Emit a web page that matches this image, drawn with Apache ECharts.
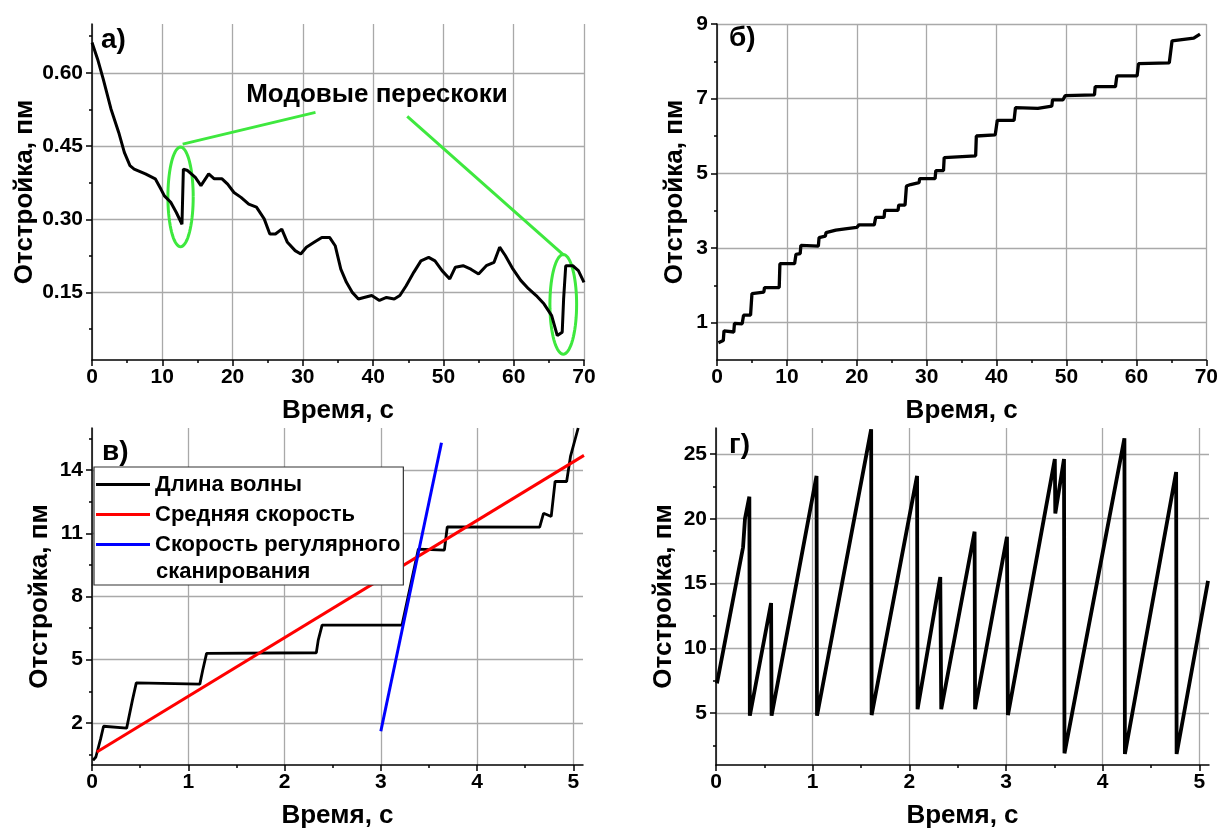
<!DOCTYPE html>
<html><head><meta charset="utf-8">
<script src="https://cdn.jsdelivr.net/npm/echarts@6/dist/echarts.min.js"></script>
<style>html,body{margin:0;padding:0;background:#fff}#c{width:1221px;height:837px}</style>
</head><body><div id="c"></div>
<script>
// ---------- Panel а) ----------
const timeA = [0,0.8,1.6,2.7,3.8,4.6,5.4,6.0,7.6,9.0,9.8,10.3,11.2,12.0,12.8,13.0,13.6,14.7,15.5,16.6,17.4,18.5,19.3,20.2,21.2,22.3,23.4,24.5,25.3,26.1,27.0,27.8,28.9,29.7,30.5,31.6,32.7,33.8,34.6,35.4,36.2,37.0,37.9,38.7,39.8,40.9,41.9,43.0,43.8,44.7,45.8,46.8,47.9,48.8,49.8,50.9,51.7,52.8,53.9,55.0,56.1,57.2,58.0,58.8,59.9,61.0,62.1,63.2,64.3,65.4,66.2,66.9,67.1,67.4,68.4,69.2,70.0];
const detuneA = [0.662,0.628,0.587,0.526,0.478,0.437,0.410,0.403,0.393,0.383,0.362,0.348,0.335,0.314,0.290,0.403,0.400,0.386,0.369,0.393,0.383,0.383,0.372,0.355,0.345,0.331,0.325,0.301,0.270,0.270,0.280,0.253,0.236,0.229,0.243,0.253,0.263,0.263,0.246,0.198,0.171,0.151,0.137,0.140,0.144,0.134,0.140,0.137,0.144,0.164,0.192,0.215,0.222,0.215,0.195,0.178,0.202,0.205,0.198,0.188,0.205,0.212,0.243,0.226,0.198,0.175,0.158,0.144,0.127,0.103,0.062,0.069,0.137,0.205,0.205,0.195,0.171];
// annotation: ellipses (center x, center y, radius x, radius y) and pointer lines
const ellipseX = [12.6, 67.05];
const ellipseY = [0.346, 0.126];
const ellipseRx = [1.8, 1.9];
const ellipseRy = [0.102, 0.102];
const pointer1 = [[12.9, 0.454], [31.8, 0.519]];
const pointer2 = [[44.85, 0.511], [67.04, 0.228]];
const annotationText = 'Модовые перескоки';

// ---------- Panel б) ----------
const timeB = [0.2,0.9,1.0,2.4,2.5,3.6,3.8,4.8,5.0,6.7,6.8,8.9,9.0,11.1,11.3,11.9,12.0,14.5,14.6,15.5,15.6,17.0,18.6,20.0,20.3,22.5,22.7,23.9,24.0,25.9,26.0,26.9,27.1,27.7,27.8,28.9,29.0,31.2,31.3,32.4,32.5,37.0,37.1,39.8,40.1,42.5,42.7,45.9,47.9,48.0,49.5,49.8,54.0,54.1,57.0,57.2,60.1,60.3,64.7,65.1,68.2,69.1];
const detuneB = [0.46,0.52,0.78,0.75,0.98,0.97,1.2,1.2,1.78,1.82,1.94,1.94,2.58,2.58,2.83,2.85,3.07,3.05,3.28,3.32,3.41,3.48,3.52,3.55,3.62,3.62,3.82,3.82,4.01,4.01,4.15,4.15,4.66,4.7,4.75,4.75,4.86,4.86,5.07,5.07,5.42,5.47,6.0,6.03,6.42,6.42,6.76,6.74,6.80,6.97,6.97,7.08,7.1,7.32,7.32,7.61,7.61,7.94,7.96,8.55,8.62,8.73];

// ---------- Panel в) ----------
const timeV = [0.01,0.04,0.09,0.12,0.36,0.42,0.46,1.12,1.15,1.19,2.33,2.35,2.39,3.22,3.39,3.66,3.69,4.65,4.69,4.77,4.81,4.93,4.97,5.05];
const wavelengthV = [0.22,0.38,1.25,1.84,1.75,3.08,3.9,3.84,4.5,5.3,5.33,5.93,6.64,6.64,10.25,10.2,11.3,11.29,11.95,11.8,13.46,13.46,14.65,16.0];
const avgSpeedT = [0.05, 5.11];
const avgSpeedV = [0.62, 14.7];
const scanT = [3.0, 3.63];
const scanV = [1.6, 15.3];
const legendNames = ['Длина волны', 'Средняя скорость', 'Скорость регулярного'];
const legendSecondLine = 'сканирования';

// ---------- Panel г) ----------
const timeG = [0.01,0.28,0.30,0.345,0.35,0.57,0.575,1.04,1.045,1.605,1.61,2.08,2.085,2.32,2.33,2.675,2.68,3.01,3.02,3.505,3.51,3.60,3.605,4.225,4.23,4.76,4.765,5.09];
const detuneG = [7.3,17.8,20.0,21.7,4.8,13.5,4.8,23.3,4.8,26.9,4.85,23.3,5.3,15.5,5.3,19.0,5.3,18.6,4.85,24.6,20.4,24.6,1.9,26.2,1.85,23.6,1.85,15.2];

// ---------- Ticks ----------
const xTicksLong = [0,10,20,30,40,50,60,70];
const xMinorLong = [5,15,25,35,45,55,65];
const xTicksShort = [0,1,2,3,4,5];
const xMinorShort = [0.5,1.5,2.5,3.5,4.5];
const yTicksA = [0.15,0.30,0.45,0.60];
const yMinorA = [0.075,0.225,0.375,0.525,0.675];
const yTicksB = [1,3,5,7,9];
const yMinorB = [2,4,6,8];
const yTicksV = [2,5,8,11,14];
const yMinorV = [0.5,3.5,6.5,9.5,12.5,15.5];
const yTicksG = [5,10,15,20,25];
const yMinorG = [2.5,7.5,12.5,17.5,22.5];

const xTitle = 'Время, с';
const yTitle = 'Отстройка, пм';
const panelLabels = ['а)', 'б)', 'в)', 'г)'];

// ---------- build ----------
const FONT = '"Liberation Sans", Arial, sans-serif';
const GRID_COLOR = '#a9a9a9';
const TICK_FS = 21;
const zip = (a, b) => a.map((v, i) => [v, b[i]]);

const grids = [
  {left: 92, top: 24, width: 492, height: 336},
  {left: 717, top: 24, width: 492, height: 336},
  {left: 92, top: 428, width: 491, height: 337},
  {left: 716, top: 428, width: 493, height: 337}
];
const xCfg = [
  {min: 0, max: 70, major: xTicksLong, minor: xMinorLong},
  {min: 0, max: 70, major: xTicksLong, minor: xMinorLong},
  {min: 0, max: 5.1, major: xTicksShort, minor: xMinorShort},
  {min: 0, max: 5.1, major: xTicksShort, minor: xMinorShort}
];
const yCfg = [
  {min: 0.012, max: 0.70, major: yTicksA, minor: yMinorA, fmt: v => v.toFixed(2), gap: 54},
  {min: 0, max: 9, major: yTicksB, minor: yMinorB, fmt: v => String(v), gap: 29},
  {min: 0, max: 16, major: yTicksV, minor: yMinorV, fmt: v => String(v), gap: 39},
  {min: 1, max: 27, major: yTicksG, minor: yMinorG, fmt: v => String(v), gap: 39}
];

const xAxes = [], yAxes = [];
grids.forEach((g, i) => {
  const xc = xCfg[i], yc = yCfg[i];
  xAxes.push({
    type: 'value', gridIndex: i, min: xc.min, max: xc.max, position: 'bottom',
    axisLine: {show: true, onZero: false, lineStyle: {color: '#000', width: 1.5}},
    axisTick: {show: true, customValues: xc.major, length: 6, lineStyle: {color: '#000', width: 1.5}},
    axisLabel: {customValues: xc.major, color: '#000', fontSize: TICK_FS, fontWeight: 'bold', fontFamily: FONT, margin: 7},
    splitLine: {show: true, lineStyle: {color: GRID_COLOR, width: 1.3}},
    name: xTitle, nameLocation: 'middle', nameGap: 38,
    nameTextStyle: {color: '#000', fontSize: 26, fontWeight: 'bold', fontFamily: FONT}
  });
  xAxes.push({
    type: 'value', gridIndex: i, min: xc.min, max: xc.max, position: 'bottom',
    axisLine: {show: false, onZero: false},
    axisTick: {show: true, customValues: xc.minor, length: 3, lineStyle: {color: '#000', width: 1.5}},
    axisLabel: {show: false}, splitLine: {show: false}
  });
  yAxes.push({
    type: 'value', gridIndex: i, min: yc.min, max: yc.max, position: 'left',
    axisLine: {show: true, onZero: false, lineStyle: {color: '#000', width: 1.5}},
    axisTick: {show: true, customValues: yc.major, length: 6, lineStyle: {color: '#000', width: 1.5}},
    axisLabel: {customValues: yc.major, formatter: yc.fmt, color: '#000', fontSize: TICK_FS, fontWeight: 'bold', fontFamily: FONT, margin: 9},
    splitLine: {show: true, lineStyle: {color: GRID_COLOR, width: 1.3}},
    name: yTitle, nameLocation: 'middle', nameGap: yc.gap, nameRotate: 90,
    nameTextStyle: {color: '#000', fontSize: 26, fontWeight: 'bold', fontFamily: FONT}
  });
  yAxes.push({
    type: 'value', gridIndex: i, min: yc.min, max: yc.max, position: 'left', offset: 0,
    axisLine: {show: false, onZero: false},
    axisTick: {show: true, customValues: yc.minor, length: 3, lineStyle: {color: '#000', width: 1.5}},
    axisLabel: {show: false}, splitLine: {show: false}
  });
});

const lineS = (gi, data, color, width, name) => ({
  type: 'line', name: name, xAxisIndex: 2 * gi, yAxisIndex: 2 * gi, data: data,
  symbol: 'none', showSymbol: false, silent: true, animation: false,
  lineStyle: {color: color, width: width}, itemStyle: {color: color}
});

const GREEN = '#3ee83e';
const ellipseData = ellipseX.map((x, i) => [x, ellipseY[i], ellipseRx[i], ellipseRy[i]]);

const series = [
  lineS(0, zip(timeA, detuneA), '#000', 3),
  lineS(0, pointer1, GREEN, 3),
  lineS(0, pointer2, GREEN, 3),
  {
    type: 'custom', xAxisIndex: 0, yAxisIndex: 0, data: ellipseData, silent: true, animation: false,
    renderItem: function (params, api) {
      const cx = api.value(0), cy = api.value(1), rx = api.value(2), ry = api.value(3);
      const pts = [];
      for (let k = 0; k <= 72; k++) {
        const t = k / 72 * Math.PI * 2;
        pts.push(api.coord([cx + rx * Math.cos(t), cy + ry * Math.sin(t)]));
      }
      return {type: 'polyline', shape: {points: pts}, style: {stroke: GREEN, lineWidth: 3, fill: null}};
    }
  },
  lineS(1, zip(timeB, detuneB), '#000', 3.3),
  lineS(2, zip(timeV, wavelengthV), '#000', 2.8, legendNames[0]),
  lineS(2, zip(avgSpeedT, avgSpeedV), '#ff0000', 3, legendNames[1]),
  lineS(2, zip(scanT, scanV), '#0000ff', 3, legendNames[2]),
  lineS(3, zip(timeG, detuneG), '#000', 3.8)
];

const labelPos = [[101, 40], [729, 38], [102, 452], [729, 445]];
const graphics = panelLabels.map((t, i) => ({
  type: 'text', x: labelPos[i][0], y: labelPos[i][1], z: 100,
  style: {text: t, fill: '#000', font: 'bold 28px ' + FONT, align: 'left', verticalAlign: 'middle'}
}));
graphics.push({
  type: 'text', x: 377, y: 95, z: 100,
  style: {text: annotationText, fill: '#000', font: 'bold 26px ' + FONT, align: 'center', verticalAlign: 'middle'}
});
graphics.push({
  type: 'text', x: 156, y: 572, z: 100,
  style: {text: legendSecondLine, fill: '#000', font: 'bold 22px ' + FONT, align: 'left', verticalAlign: 'middle'}
});

const chart = echarts.init(document.getElementById('c'), null, {renderer: 'canvas'});
chart.setOption({
  animation: false,
  backgroundColor: '#fff',
  grid: grids,
  xAxis: xAxes,
  yAxis: yAxes,
  legend: {
    data: legendNames, orient: 'vertical', left: 94, top: 467,
    icon: 'rect', itemWidth: 54, itemHeight: 3, itemGap: 1,
    padding: [3, 3, 26, 2],
    backgroundColor: '#fff', borderColor: '#333', borderWidth: 1.2,
    selectedMode: false, z: 50,
    textStyle: {color: '#000', fontSize: 22, fontWeight: 'bold', fontFamily: FONT, lineHeight: 29}
  },
  series: series,
  graphic: graphics
});
</script>
</body></html>
